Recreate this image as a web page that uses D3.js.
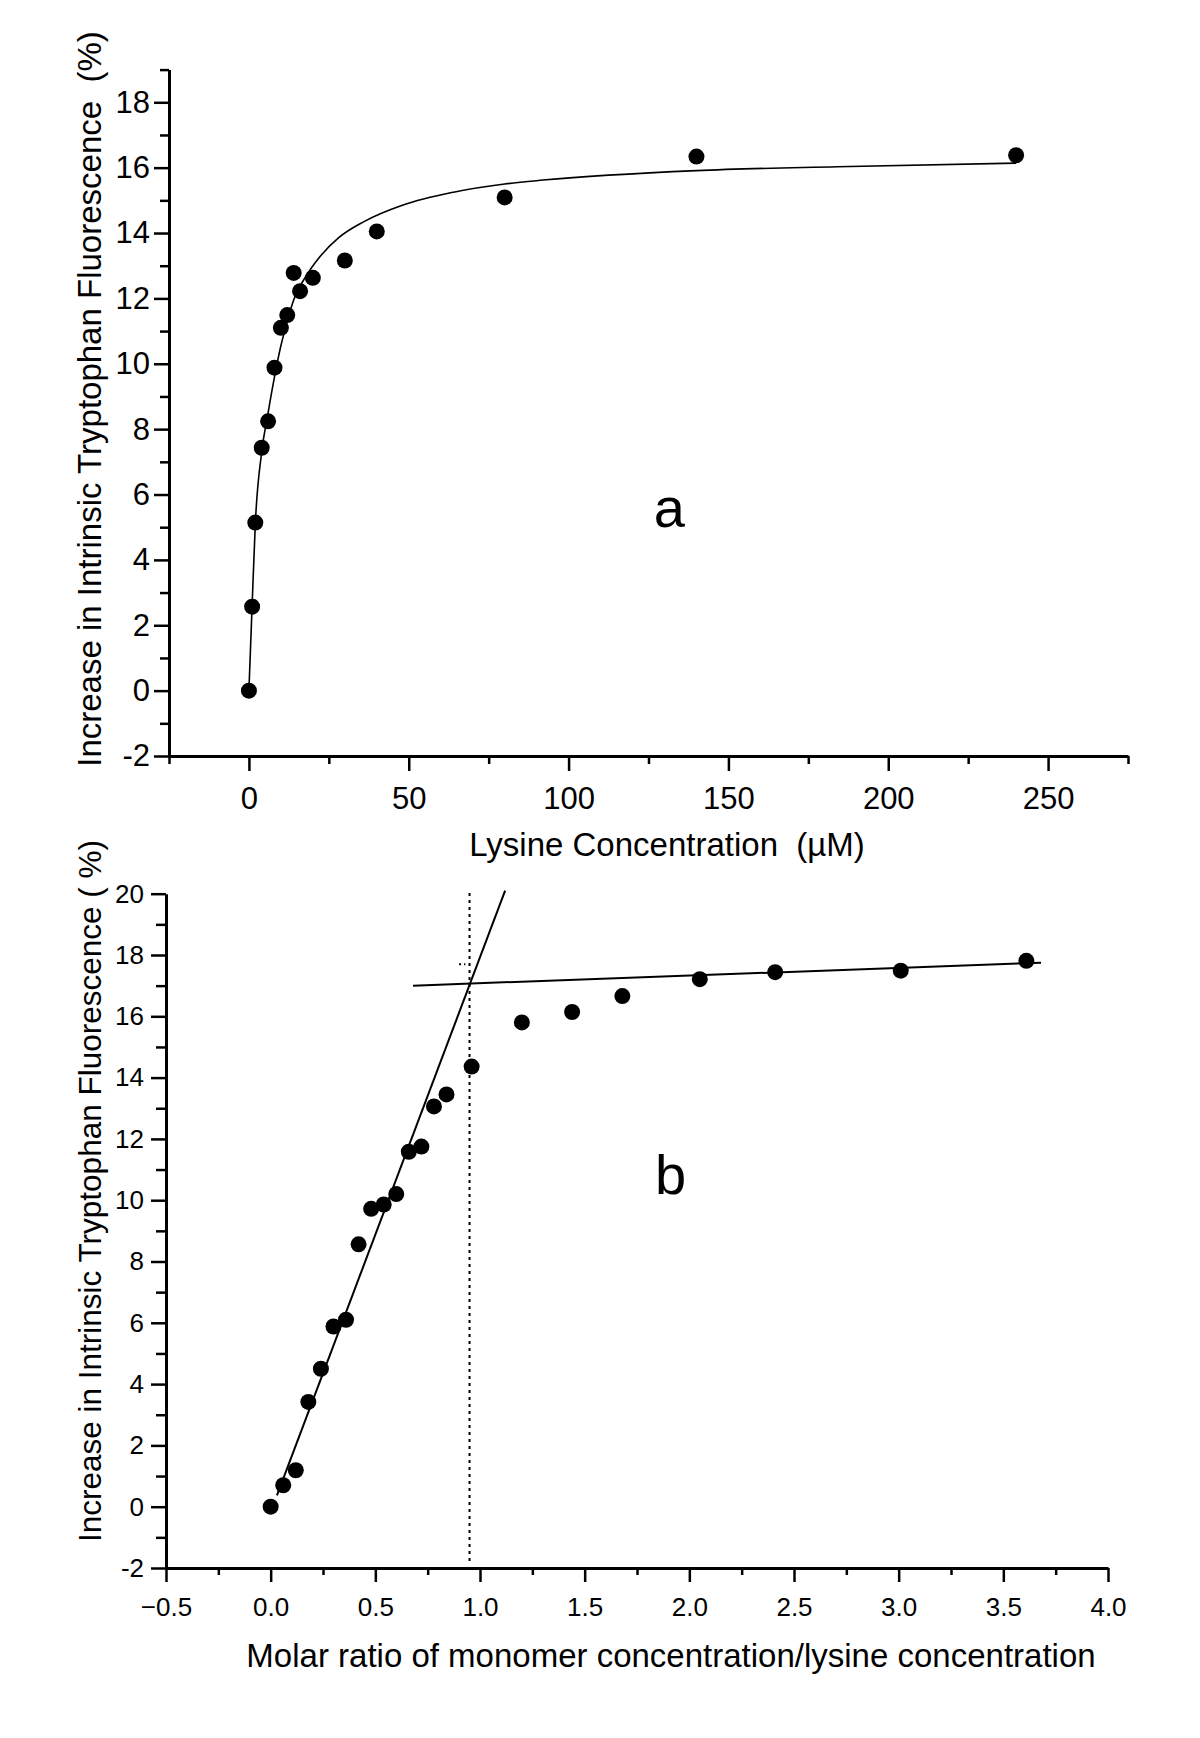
<!DOCTYPE html>
<html>
<head>
<meta charset="utf-8">
<script src="https://cdn.jsdelivr.net/npm/d3@7"></script>
<style>
  body { margin: 0; background: #fff; }
  svg { display: block; }
  text { font-family: "Liberation Sans", Arial, sans-serif; fill: #000; }
</style>
</head>
<body>
<div class="chart"></div>
<script>
// Panel a: lysine titration (uM) vs fluorescence increase (%)
const lysineConc = [0, 1, 2, 4, 6, 8, 10, 12, 14, 16, 20, 30, 40, 80, 140, 240]
const fluorA     = [0, 2.57, 5.14, 7.43, 8.24, 9.88, 11.1, 11.49, 12.78, 12.22, 12.63, 13.16, 14.05, 15.09, 16.34, 16.38]
// fitted curve
const fitAx = [0, 1, 2, 4, 6, 8, 10, 12, 14, 18, 22, 28, 36, 48, 64, 80, 92, 140, 184, 240]
const fitAy = [0, 2.6, 5.1, 7.3, 8.5, 9.6, 10.55, 11.3, 11.95, 12.7, 13.25, 13.85, 14.35, 14.85, 15.25, 15.5, 15.62, 15.91, 16.03, 16.14]

// Panel b: molar ratio vs fluorescence increase (%)
const molarRatio = [0, 0.06, 0.12, 0.18, 0.24, 0.30, 0.36, 0.42, 0.48, 0.54, 0.60, 0.66, 0.72, 0.78, 0.84, 0.96, 1.20, 1.44, 1.68, 2.05, 2.41, 3.01, 3.61]
const fluorB     = [0, 0.70, 1.19, 3.42, 4.50, 5.88, 6.10, 8.56, 9.72, 9.86, 10.20, 11.58, 11.75, 13.06, 13.45, 14.36, 15.80, 16.14, 16.66, 17.21, 17.44, 17.49, 17.81]
// straight lines drawn on panel b (endpoints in data units)
const steepLine   = [[0.03, 0.37], [1.12, 20.1]]
const plateauLine = [[0.68, 17.0], [3.68, 17.75]]
const breakX = 0.95
const breakLine = [[breakX, -1.77], [breakX, 20.1]]
const stray = [[0.90, 17.7], [0.93, 17.7]]

// axis setup
const xDomainA = [-25, 275], yDomainA = [-2, 19]
const xTicksA = d3.range(-25, 276, 25)
const yTicksA = d3.range(-2, 20, 1)
const xDomainB = [-0.5, 4.0], yDomainB = [-2, 20]
const xTicksB = d3.range(-2, 17).map(i => i * 0.25)
const yTicksB = d3.range(-2, 21, 1)

const labelA = {x: 131.5, y: 5.0, text: "a"}
const labelB = {x: 1.91, y: 10.2, text: "b"}

const width = 1200, height = 1738

const svg = d3.select(".chart").append("svg")
    .attr("width", width)
    .attr("height", height)
    .attr("viewBox", [0, 0, width, height])

// scales
const xA = d3.scaleLinear().domain(xDomainA).range([169, 1128])
const yA = d3.scaleLinear().domain(yDomainA).range([756, 69.6])
const xB = d3.scaleLinear().domain(xDomainB).range([166, 1108])
const yB = d3.scaleLinear().domain(yDomainB).range([1568, 893.7])

function drawAxis(axis, transform, isMajor, minorLen, horizontal, fontSize) {
    const g = svg.append("g").attr("transform", transform).call(axis)
    g.select(".domain").attr("stroke-width", 3).attr("stroke", "#000")
    g.selectAll(".tick line")
        .attr("stroke-width", 2.5)
        .attr("stroke", "#000")
        .filter(d => !isMajor(d))
        .attr(horizontal ? "y2" : "x2", horizontal ? minorLen : -minorLen)
    g.selectAll(".tick text")
        .attr("font-size", fontSize)
        .attr("font-family", "Liberation Sans, Arial, sans-serif")
        .attr("fill", "#000")
    return g
}

// ---- panel a ----
const majA = d => d % 50 === 0
drawAxis(d3.axisBottom(xA).tickValues(xTicksA).tickSize(15).tickSizeOuter(0).tickPadding(16)
        .tickFormat(d => majA(d) ? d : ""),
    `translate(0,${yA(-2)})`, majA, 8, true, 31)
const majAy = d => d % 2 === 0
drawAxis(d3.axisLeft(yA).tickValues(yTicksA).tickSize(15).tickSizeOuter(0).tickPadding(4)
        .tickFormat(d => majAy(d) ? d : ""),
    `translate(${xA(-25)},0)`, majAy, 9, false, 31)

svg.append("path")
    .datum(d3.zip(fitAx, fitAy))
    .attr("fill", "none")
    .attr("stroke", "#000")
    .attr("stroke-width", 1.6)
    .attr("d", d3.line().x(d => xA(d[0])).y(d => yA(d[1])).curve(d3.curveMonotoneX))

svg.append("g")
    .selectAll("circle")
    .data(d3.zip(lysineConc, fluorA))
    .join("circle")
        .attr("cx", d => xA(d[0]))
        .attr("cy", d => yA(d[1]))
        .attr("r", 8)
        .attr("fill", "#000")

svg.append("text")
    .attr("x", xA(labelA.x)).attr("y", yA(labelA.y))
    .attr("text-anchor", "middle")
    .attr("font-family", "Liberation Serif, Times New Roman, serif")
    .attr("font-size", 56)
    .text(labelA.text)

svg.append("text")
    .attr("x", 667).attr("y", 856)
    .attr("text-anchor", "middle")
    .attr("font-size", 33)
    .style("white-space", "pre")
    .text("Lysine Concentration  (\u00b5M)")

svg.append("text")
    .attr("transform", "translate(101,399) rotate(-90)")
    .attr("text-anchor", "middle")
    .attr("font-size", 33)
    .style("white-space", "pre")
    .text("Increase in Intrinsic Tryptophan Fluorescence  (%)")

// ---- panel b ----
const majBx = d => Math.abs(d * 2 - Math.round(d * 2)) < 1e-9
drawAxis(d3.axisBottom(xB).tickValues(xTicksB).tickSize(14).tickSizeOuter(0).tickPadding(15.5)
        .tickFormat(d => majBx(d) ? d3.format(".1f")(d) : ""),
    `translate(0,${yB(-2)})`, majBx, 7, true, 26)
const majBy = d => d % 2 === 0
drawAxis(d3.axisLeft(yB).tickValues(yTicksB).tickSize(15).tickSizeOuter(0).tickPadding(7)
        .tickFormat(d => majBy(d) ? d : ""),
    `translate(${xB(-0.5)},0)`, majBy, 10, false, 26)

const lineB = d3.line().x(d => xB(d[0])).y(d => yB(d[1]))

svg.append("path")
    .attr("d", lineB(breakLine))
    .attr("stroke", "#000").attr("stroke-width", 2).attr("stroke-dasharray", "3,4")
svg.append("path")
    .attr("d", lineB(stray))
    .attr("stroke", "#000").attr("stroke-width", 2).attr("stroke-dasharray", "2,3")
svg.append("path")
    .attr("d", lineB(steepLine))
    .attr("stroke", "#000").attr("stroke-width", 2).attr("fill", "none")
svg.append("path")
    .attr("d", lineB(plateauLine))
    .attr("stroke", "#000").attr("stroke-width", 2).attr("fill", "none")

svg.append("g")
    .selectAll("circle")
    .data(d3.zip(molarRatio, fluorB))
    .join("circle")
        .attr("cx", d => xB(d[0]))
        .attr("cy", d => yB(d[1]))
        .attr("r", 8)
        .attr("fill", "#000")

svg.append("text")
    .attr("x", xB(labelB.x)).attr("y", yB(labelB.y))
    .attr("text-anchor", "middle")
    .attr("font-family", "Liberation Serif, Times New Roman, serif")
    .attr("font-size", 56)
    .text(labelB.text)

svg.append("text")
    .attr("x", 671).attr("y", 1667)
    .attr("text-anchor", "middle")
    .attr("font-size", 33)
    .text("Molar ratio of monomer concentration/lysine concentration")

svg.append("text")
    .attr("transform", "translate(101,1191) rotate(-90)")
    .attr("text-anchor", "middle")
    .attr("font-size", 31.5)
    .style("white-space", "pre")
    .text("Increase in Intrinsic Tryptophan Fluorescence ( %)")
</script>
</body>
</html>
